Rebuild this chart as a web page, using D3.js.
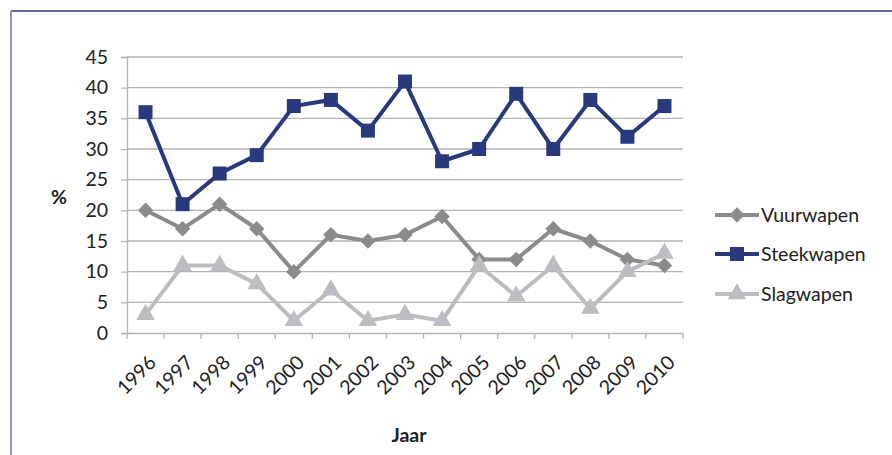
<!DOCTYPE html>
<html>
<head>
<meta charset="utf-8">
<script src="https://cdn.jsdelivr.net/npm/d3@7"></script>
<style>
  body { margin: 0; background: #fff; }
  svg { display: block; font-family: Lato, "Open Sans", sans-serif; }
</style>
</head>
<body>
<div id="chart"></div>
<script>
const years = ["1996", "1997", "1998", "1999", "2000", "2001", "2002", "2003", "2004", "2005", "2006", "2007", "2008", "2009", "2010"];
const vuurwapen = [20, 17, 21, 17, 10, 16, 15, 16, 19, 12, 12, 17, 15, 12, 11];
const steekwapen = [36, 21, 26, 29, 37, 38, 33, 41, 28, 30, 39, 30, 38, 32, 37];
const slagwapen = [3, 11, 11, 8, 2, 7, 2, 3, 2, 11, 6, 11, 4, 10, 13];
const yTicks = [0, 5, 10, 15, 20, 25, 30, 35, 40, 45];

const series = [
  { name: "Vuurwapen", values: vuurwapen, color: "#8b8b8d", symbol: "diamond" },
  { name: "Steekwapen", values: steekwapen, color: "#283a7d", symbol: "square" },
  { name: "Slagwapen", values: slagwapen, color: "#bcbdc0", symbol: "triangle" }
];

const W = 892, H = 455;
const plot = { left: 127, right: 683, top: 57, bottom: 333 };
const fontSize = 19.5;

const svg = d3.select("#chart").append("svg")
  .attr("width", W)
  .attr("height", H);

// frame lines
svg.append("line")
  .attr("x1", 11).attr("x2", W).attr("y1", 11).attr("y2", 11)
  .attr("stroke", "#2e3a82").attr("stroke-width", 1.5);
svg.append("line")
  .attr("x1", 11).attr("x2", 11).attr("y1", 11).attr("y2", H)
  .attr("stroke", "#6a76b4").attr("stroke-width", 1.5);

// scales
const x = d3.scaleBand()
  .domain(years)
  .range([plot.left, plot.right]);

const y = d3.scaleLinear()
  .domain([0, 45])
  .range([plot.bottom, plot.top]);

// gridlines
svg.append("g")
  .selectAll("line")
  .data(yTicks.filter(d => d > 0))
  .enter()
  .append("line")
  .attr("x1", plot.left).attr("x2", plot.right)
  .attr("y1", d => y(d)).attr("y2", d => y(d))
  .attr("stroke", "#b3b3b3").attr("stroke-width", 1.3);

// y axis
const yAxis = svg.append("g")
  .attr("transform", `translate(${plot.left},0)`)
  .call(d3.axisLeft(y).tickValues(yTicks).tickSize(6).tickPadding(13));
yAxis.select(".domain").attr("stroke", "#b3b3b3").attr("stroke-width", 1.3);
yAxis.selectAll(".tick line").attr("stroke", "#b3b3b3").attr("stroke-width", 1.3);
yAxis.selectAll(".tick text")
  .attr("font-size", fontSize)
  .attr("font-family", "Lato, 'Open Sans', sans-serif")
  .attr("fill", "#222");

// x axis
const xAxis = svg.append("g")
  .attr("transform", `translate(0,${plot.bottom})`)
  .call(d3.axisBottom(x).tickSize(0).tickFormat(""));
xAxis.select(".domain").attr("stroke", "#b3b3b3").attr("stroke-width", 1.3);

svg.append("g")
  .selectAll("line")
  .data(d3.range(years.length + 1))
  .enter()
  .append("line")
  .attr("x1", i => plot.left + i * x.step())
  .attr("x2", i => plot.left + i * x.step())
  .attr("y1", plot.bottom).attr("y2", plot.bottom + 6)
  .attr("stroke", "#b3b3b3").attr("stroke-width", 1.3);

svg.append("g")
  .selectAll("text")
  .data(years)
  .enter()
  .append("text")
  .attr("transform", d => `translate(${x(d) + x.bandwidth() / 2 + 7},${plot.bottom + 26}) rotate(-45)`)
  .attr("text-anchor", "end")
  .attr("dy", "0.35em")
  .attr("font-size", fontSize)
  .attr("fill", "#222")
  .text(d => d);

// axis titles
svg.append("text")
  .attr("x", 59).attr("y", 204)
  .attr("text-anchor", "middle")
  .attr("font-size", fontSize)
  .attr("font-weight", "bold")
  .attr("fill", "#222")
  .text("%");

svg.append("text")
  .attr("x", 409).attr("y", 442)
  .attr("text-anchor", "middle")
  .attr("font-size", fontSize)
  .attr("font-weight", "bold")
  .attr("fill", "#222")
  .text("Jaar");

// lines and markers
const cx = (d, i) => x(years[i]) + x.bandwidth() / 2;
const line = d3.line()
  .x((d, i) => cx(d, i))
  .y(d => y(d));

const symbolFor = {
  diamond: d3.symbol().type(d3.symbolSquare).size(120),
  square: d3.symbol().type(d3.symbolSquare).size(196),
  triangle: d3.symbol().type(d3.symbolTriangle).size(150)
};

series.forEach(s => {
  svg.append("path")
    .datum(s.values)
    .attr("fill", "none")
    .attr("stroke", s.color)
    .attr("stroke-width", 4)
    .attr("stroke-linejoin", "miter")
    .attr("d", line);

  svg.append("g")
    .selectAll("path")
    .data(s.values)
    .enter()
    .append("path")
    .attr("d", symbolFor[s.symbol])
    .attr("transform", (d, i) => `translate(${cx(d, i)},${y(d)})` + (s.symbol === "diamond" ? " rotate(45)" : ""))
    .attr("fill", s.color);
});

// legend
const legend = svg.append("g");
const legendY = [215, 254, 294];
series.forEach((s, i) => {
  const g = legend.append("g").attr("transform", `translate(715,${legendY[i]})`);
  g.append("line")
    .attr("x1", 0).attr("x2", 44)
    .attr("stroke", s.color).attr("stroke-width", 4);
  g.append("path")
    .attr("d", symbolFor[s.symbol])
    .attr("transform", `translate(22,0)` + (s.symbol === "diamond" ? " rotate(45)" : ""))
    .attr("fill", s.color);
  g.append("text")
    .attr("x", 46).attr("y", 0)
    .attr("dy", "0.35em")
    .attr("font-size", fontSize)
    .attr("fill", "#222")
    .text(s.name);
});
</script>
</body>
</html>
